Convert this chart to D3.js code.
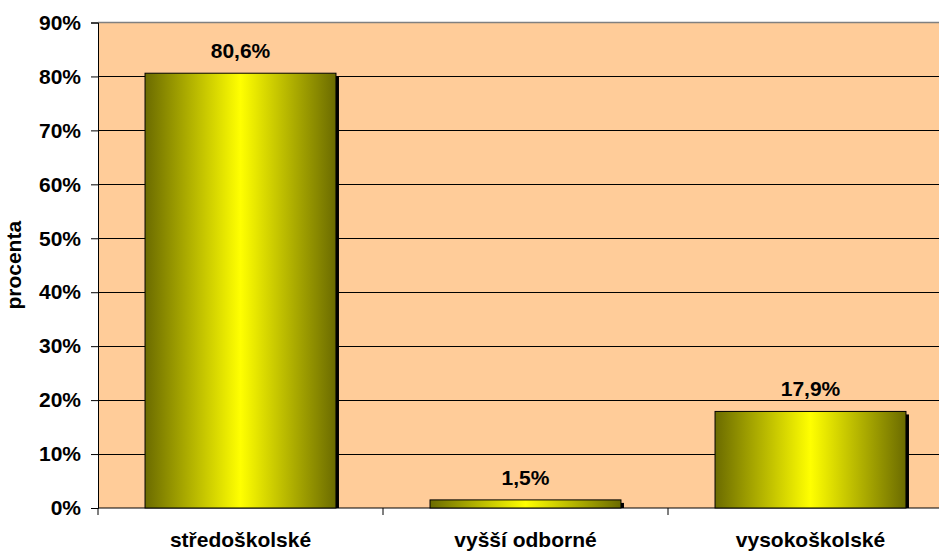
<!DOCTYPE html>
<html><head><meta charset="utf-8">
<script src="https://cdn.jsdelivr.net/npm/d3@7"></script>
<style>body{margin:0;background:#fff}svg{display:block}text{font-family:"Liberation Sans",Arial,sans-serif;font-weight:bold;fill:#000}</style>
</head><body>
<script>
const categories = ["středoškolské", "vyšší odborné", "vysokoškolské"];
const values = [80.6, 1.5, 17.9];
const valueLabels = ["80,6%", "1,5%", "17,9%"];
const yTicks = [0, 10, 20, 30, 40, 50, 60, 70, 80, 90];
const yTitle = "procenta";

const W = 939, H = 554;
const m = {left: 98, top: 22.5, right: 953, bottom: 508};
const FS = "21px";
const svg = d3.select("body").append("svg").attr("width", W).attr("height", H);

const x = d3.scaleBand().domain(categories).range([m.left, m.right]).paddingInner(0.33).paddingOuter(0.165);
const xOuter = d3.scaleBand().domain(categories).range([m.left, m.right]);
const y = d3.scaleLinear().domain([0, 90]).range([m.bottom, m.top]);

const defs = svg.append("defs");
const g = defs.append("linearGradient").attr("id", "bg").attr("x1", 0).attr("x2", 1).attr("y1", 0).attr("y2", 0);
g.append("stop").attr("offset", "0%").attr("stop-color", "#6b6b00");
g.append("stop").attr("offset", "50%").attr("stop-color", "#ffff00");
g.append("stop").attr("offset", "100%").attr("stop-color", "#6b6b00");

svg.append("rect").attr("x", m.left).attr("y", m.top).attr("width", m.right - m.left).attr("height", m.bottom - m.top).attr("fill", "#ffcc99");
svg.append("line").attr("x1", m.left).attr("x2", m.right).attr("y1", m.top).attr("y2", m.top).attr("stroke", "#808080").attr("stroke-width", 1.5);

// gridlines
svg.append("g").selectAll("line").data(yTicks.filter(d => d > 0 && d < 90)).join("line")
  .attr("x1", m.left).attr("x2", m.right).attr("y1", d => Math.round(y(d)) + 0.5).attr("y2", d => Math.round(y(d)) + 0.5)
  .attr("stroke", "#000").attr("stroke-width", 1);

// y axis
const ya = svg.append("g").attr("transform", `translate(${m.left},0)`)
  .call(d3.axisLeft(y).tickValues(yTicks).tickSize(7).tickPadding(10).tickFormat(d => d + "%"));
ya.select(".domain").attr("stroke", "#000").attr("stroke-width", 1);
ya.selectAll(".tick line").attr("stroke", "#000");
ya.selectAll("text").style("font-size", FS).style("font-family", "Liberation Sans, Arial, sans-serif").style("font-weight", "bold").attr("fill", "#000");

// x axis
const xa = svg.append("g").attr("transform", `translate(0,${m.bottom})`);
xa.append("line").attr("x1", m.left).attr("x2", m.right).attr("stroke", "#000");
xa.selectAll(".tk").data(categories).join("line")
  .attr("x1", d => xOuter(d)).attr("x2", d => xOuter(d)).attr("y1", 0).attr("y2", 7).attr("stroke", "#000");
xa.selectAll("text").data(categories).join("text")
  .attr("x", d => xOuter(d) + xOuter.bandwidth() / 2).attr("y", 39).attr("text-anchor", "middle")
  .style("font-size", FS).text(d => d);

// bars
const data = categories.map((c, i) => ({c, v: values[i], l: valueLabels[i]}));
const bars = svg.append("g");
bars.selectAll(".sh").data(data).join("rect")
  .attr("x", d => x(d.c) + 3).attr("y", d => y(d.v) + 3)
  .attr("width", x.bandwidth()).attr("height", d => m.bottom - y(d.v) - 3).attr("fill", "#000");
bars.selectAll(".b").data(data).join("rect")
  .attr("x", d => x(d.c)).attr("y", d => y(d.v))
  .attr("width", x.bandwidth()).attr("height", d => m.bottom - y(d.v))
  .attr("fill", "url(#bg)").attr("stroke", "#000").attr("stroke-width", 1);
bars.selectAll("text").data(data).join("text")
  .attr("x", d => x(d.c) + x.bandwidth() / 2).attr("y", d => y(d.v) - 15)
  .attr("text-anchor", "middle").style("font-size", FS).text(d => d.l);

// y title
svg.append("text").attr("transform", `translate(21,${(m.top + m.bottom) / 2}) rotate(-90)`)
  .attr("text-anchor", "middle").style("font-size", FS).text(yTitle);
</script>
</body></html>
